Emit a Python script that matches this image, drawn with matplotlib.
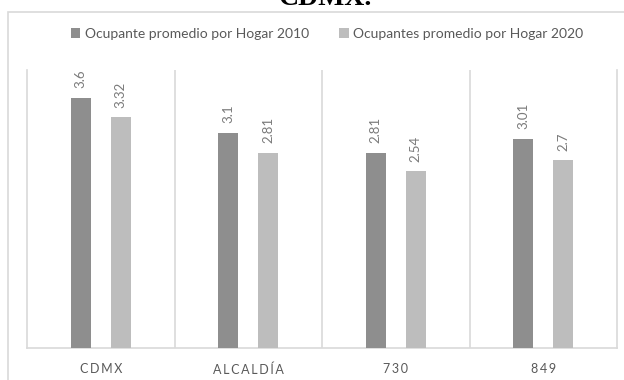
import matplotlib
matplotlib.use("Agg")
import matplotlib.pyplot as plt
from matplotlib.patches import Rectangle, Patch
import numpy as np

categories = ["CDMX", "ALCALDÍA", "730", "849"]
series_names = ["Ocupante promedio por Hogar 2010", "Ocupantes promedio por Hogar 2020"]
values_2010 = [3.6, 3.1, 2.81, 3.01]
values_2020 = [3.32, 2.81, 2.54, 2.7]
value_labels_2010 = ["3.6", "3.1", "2.81", "3.01"]
value_labels_2020 = ["3.32", "2.81", "2.54", "2.7"]

W, H = 624, 380
fig = plt.figure(figsize=(W / 100, H / 100), dpi=100)
fig.patch.set_facecolor("white")

FONT = ["Lato", "DejaVu Sans"]
TEXT_GREY = "#595959"
DARK = "#8e8e8e"
LIGHT = "#bdbdbd"
GRID = "#d9d9d9"

# outer chart frame
fig.add_artist(Rectangle((8 / W, -0.05), 1.1, 1 - 12 / H + 0.05, transform=fig.transFigure,
                         fill=False, edgecolor="#d9d9d9", lw=1.2))

# title (cut by the top edge of the canvas)
fig.text(325 / W, 1 - 5 / H, "CDMX.", family="Liberation Serif", weight="bold",
         fontsize=20, ha="center", va="baseline", color="black")

ax = fig.add_axes([27 / W, (H - 348) / H, 590 / W, 278 / H])
x = np.arange(len(categories))
bw = 0.135
off = 0.135
b1 = ax.bar(x - off, values_2010, bw, color=DARK, zorder=3)
b2 = ax.bar(x + off, values_2020, bw, color=LIGHT, zorder=3)

for bars, labels in ((b1, value_labels_2010), (b2, value_labels_2020)):
    for rect, lab in zip(bars, labels):
        ax.annotate(lab, (rect.get_x() + rect.get_width() / 2, rect.get_height()),
                    xytext=(0, 7), textcoords="offset points", rotation=90,
                    ha="center", va="bottom", fontsize=9.5, color="#7a7a7a", family=FONT)

ax.set_xlim(-0.5, len(categories) - 0.5)
ax.set_ylim(0, 4.0)
ax.set_yticks([])
ax.set_xticks(x)
ax.set_xticklabels(["\u2009".join(c) for c in categories], family=FONT, fontsize=9,
                   color=TEXT_GREY)
ax.tick_params(axis="x", length=0, pad=11)

# category separators
for b in np.arange(0.5, len(categories) - 0.5, 1):
    ax.axvline(b, color=GRID, lw=1.2, zorder=1)

for s in ("left", "right", "bottom"):
    ax.spines[s].set_color(GRID)
    ax.spines[s].set_linewidth(1.2)
ax.spines["top"].set_visible(False)

handles = [Patch(facecolor=DARK, edgecolor="none"), Patch(facecolor=LIGHT, edgecolor="none")]
fig.legend(handles, series_names, loc="center", bbox_to_anchor=(327 / W, 1 - 34 / H),
           ncol=2, frameon=False, handlelength=0.7, handleheight=0.7, handletextpad=0.3,
           columnspacing=2.2, prop={"family": FONT, "size": 10}, labelcolor=TEXT_GREY)

fig.savefig("out.png", dpi=100)
